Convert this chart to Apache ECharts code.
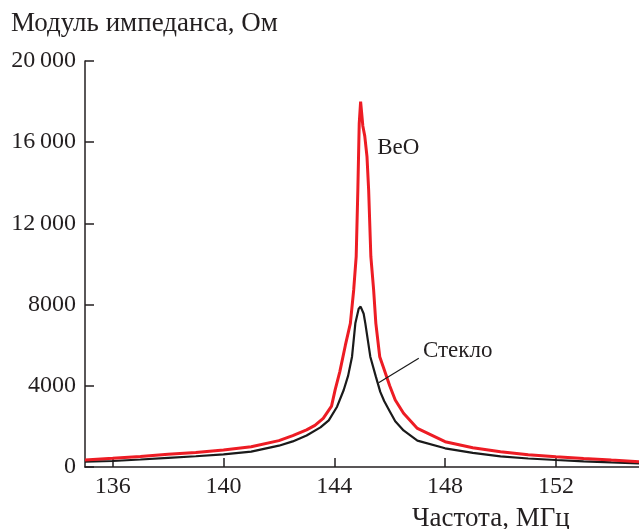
<!DOCTYPE html>
<html>
<head>
    <meta charset="utf-8">
    <title>Модуль импеданса</title>
    <script src="https://cdn.jsdelivr.net/npm/echarts@6/dist/echarts.min.js"></script>
</head>
<body style="margin:0">
    <div id="chart" style="width: 639px; height: 529px;"></div>

    <script type="text/javascript">
        // частота, МГц и модуль импеданса, Ом
        var freqBeO = [135, 136, 137, 138, 139, 140, 141, 142, 142.5, 143, 143.3, 143.6, 143.9, 144.03, 144.2, 144.4, 144.58, 144.7, 144.79, 144.85, 144.9, 144.95,
                       145.03, 145.1, 145.18, 145.24, 145.32, 145.42, 145.5, 145.64, 145.8, 146, 146.2, 146.5, 147, 148, 149, 150, 151, 152, 153, 154, 155];
        var impBeO = [345, 428, 520, 625, 720, 837, 1000, 1300, 1550, 1830, 2050, 2400, 3000, 3800, 4700, 6000, 7077, 8720, 10360, 13645, 16930, 18000,
                      16800, 16300, 15290, 13645, 10360, 8720, 7077, 5433, 4800, 4000, 3300, 2645, 1900, 1246, 950, 750, 600, 507, 420, 340, 261];

        var freqGlass = [135, 136, 137, 138, 139, 140, 141, 142, 142.5, 143, 143.5, 143.8, 144.1, 144.34, 144.5, 144.64, 144.76, 144.88, 144.95,
                         145.06, 145.12, 145.3, 145.5, 145.66, 145.8, 146, 146.2, 146.5, 147, 148, 149, 150, 151, 152, 153, 154, 155];
        var impGlass = [261, 296, 370, 450, 530, 625, 760, 1050, 1260, 1550, 1950, 2300, 2970, 3793, 4500, 5433, 7077, 7800, 7900,
                        7550, 7077, 5433, 4450, 3700, 3250, 2750, 2250, 1800, 1300, 921, 700, 520, 420, 345, 280, 230, 182];

        var xTicks = [136, 140, 144, 148, 152];

        function pairs(xs, ys) {
            return xs.map(function (x, i) { return [x, ys[i]]; });
        }

        var font = 'Liberation Serif';
        var ink = '#231f20';

        var chart = echarts.init(document.getElementById('chart'));

        var option = {
            animation: false,
            title: [
                {
                    text: 'Модуль импеданса, Ом',
                    left: 6, top: 5,
                    textStyle: {fontFamily: font, fontSize: 27, fontWeight: 'normal', color: ink}
                },
                {
                    text: 'Частота, МГц',
                    left: 407, top: 500,
                    textStyle: {fontFamily: font, fontSize: 27, fontWeight: 'normal', color: ink}
                }
            ],
            grid: {left: 85, right: 0, top: 61, bottom: 62},
            xAxis: {
                type: 'value',
                min: 135,
                max: 155,
                axisLine: {lineStyle: {color: ink, width: 1.5}},
                axisTick: {inside: true, length: 9, customValues: xTicks, lineStyle: {color: ink, width: 1.5}},
                axisLabel: {customValues: xTicks, margin: 8, fontFamily: font, fontSize: 24, color: ink},
                splitLine: {show: false}
            },
            yAxis: {
                type: 'value',
                min: 0,
                max: 20000,
                interval: 4000,
                axisLine: {show: true, lineStyle: {color: ink, width: 1.5}},
                axisTick: {show: true, inside: true, length: 9, lineStyle: {color: ink, width: 1.5}},
                axisLabel: {
                    margin: 9, fontFamily: font, fontSize: 24, color: ink,
                    formatter: function (v) {
                        var s = String(v);
                        return v >= 10000 ? s.slice(0, s.length - 3) + '\u2009' + s.slice(-3) : s;
                    }
                },
                splitLine: {show: false}
            },
            series: [
                {
                    name: 'Стекло',
                    type: 'line',
                    data: pairs(freqGlass, impGlass),
                    showSymbol: false,
                    lineStyle: {color: '#1a1a1a', width: 2.2},
                    markLine: {
                        silent: true,
                        symbol: 'none',
                        label: {show: false},
                        lineStyle: {color: '#1a1a1a', width: 1.2, type: 'solid'},
                        data: [[{coord: [145.6, 4150]}, {coord: [147.05, 5360]}]]
                    },
                    markPoint: {
                        symbolSize: 0,
                        data: [{coord: [147.2, 5700], value: 'Стекло'}],
                        label: {
                            show: true, position: 'right', distance: 0,
                            formatter: '{c}', fontFamily: font, fontSize: 23, color: ink
                        }
                    }
                },
                {
                    name: 'BeO',
                    type: 'line',
                    data: pairs(freqBeO, impBeO),
                    showSymbol: false,
                    lineStyle: {color: '#ed1c24', width: 3},
                    markPoint: {
                        symbolSize: 0,
                        data: [{coord: [145.55, 15700], value: 'BeO'}],
                        label: {
                            show: true, position: 'right', distance: 0,
                            formatter: '{c}', fontFamily: font, fontSize: 23, color: ink
                        }
                    }
                }
            ]
        };

        chart.setOption(option);
    </script>
</body>
</html>
